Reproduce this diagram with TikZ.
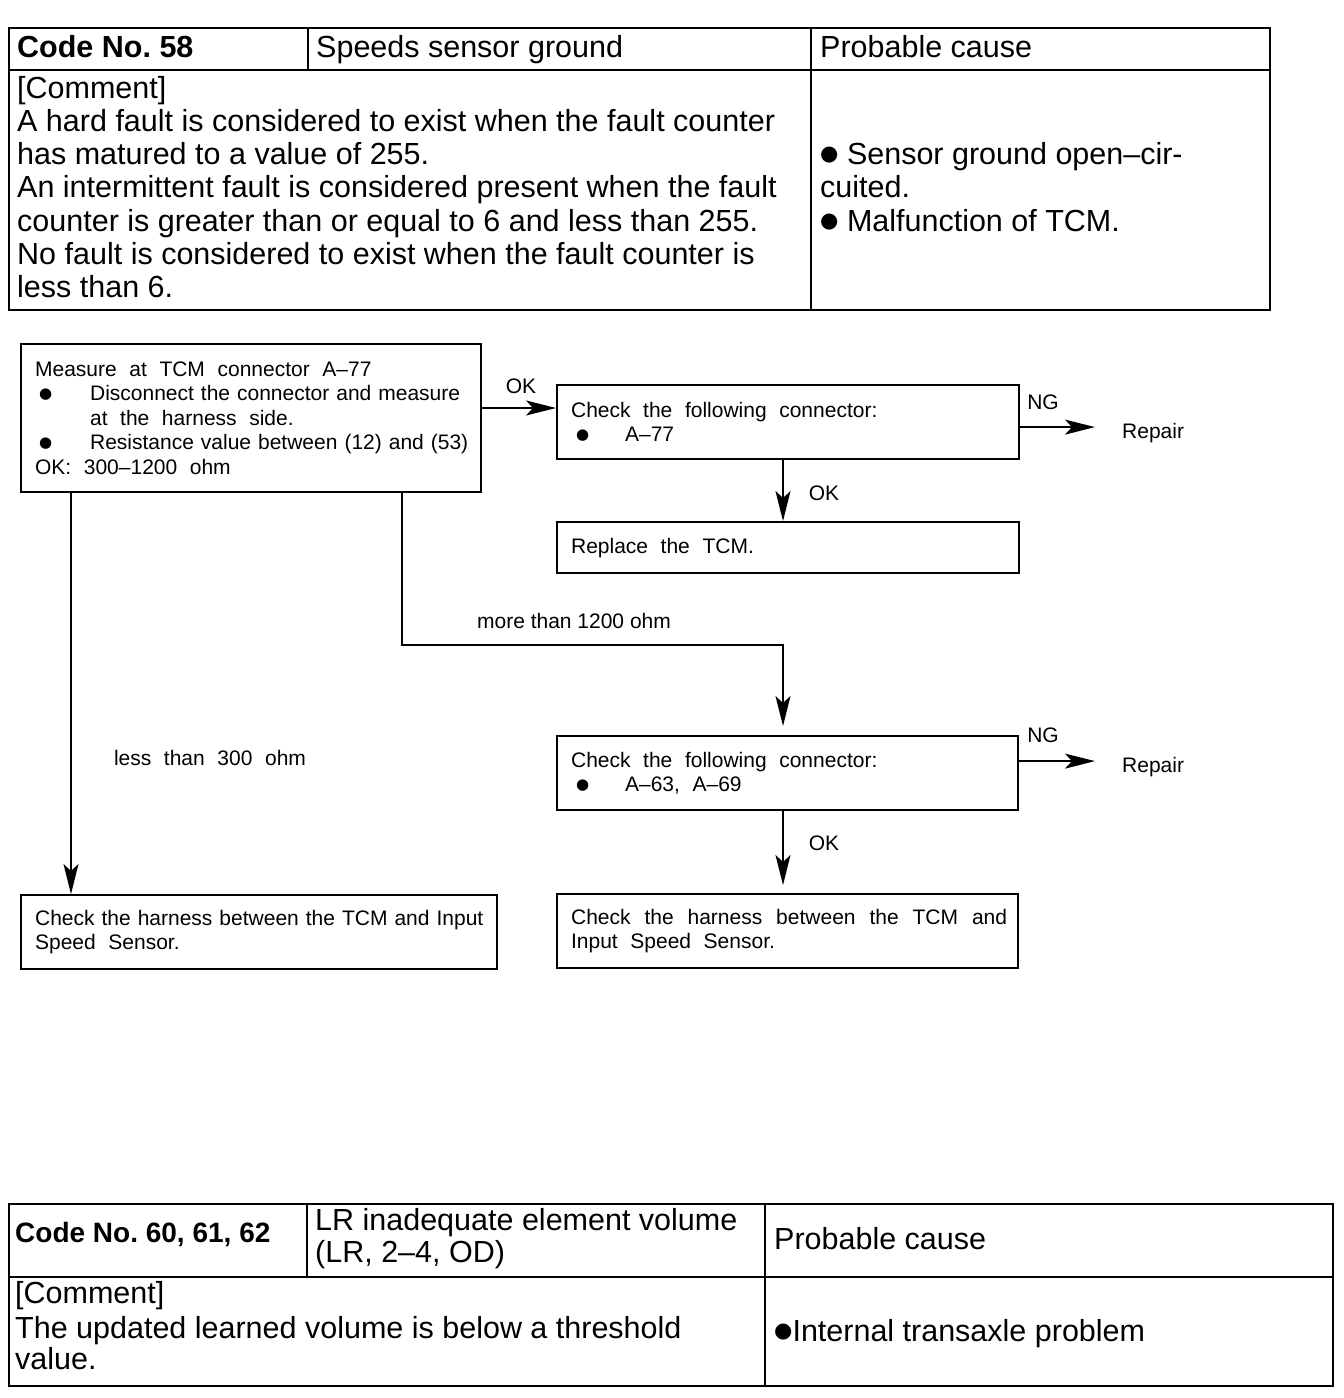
\documentclass[tikz,border=0pt]{standalone}
\usepackage{fontspec}
\setmainfont{Liberation Sans}
\newfontfamily\dejavu{DejaVu Sans}
\usetikzlibrary{arrows.meta}
\newcommand\wsp{\spaceskip=0.6em plus 0.2em\relax}
\newcommand\fbul{\raisebox{2pt}{\dejavu\fontsize{15}{0}\selectfont ●}}
\newcommand\tbul{\raisebox{4pt}{\dejavu\fontsize{21}{0}\selectfont ●}}
\tikzset{
  big/.style={font=\fontsize{30.5}{33.3}\selectfont, inner sep=0pt, anchor=base west},
  mid/.style={font=\fontsize{28}{32}\selectfont, inner sep=0pt, anchor=base west},
  lbl/.style={font=\fontsize{21}{24.5}\selectfont, inner sep=0pt},
  flowbox/.style={draw, line width=2.2pt, font=\fontsize{21}{24.5}\selectfont,
    inner xsep=14pt, inner ysep=0pt, align=left, anchor=north west},
  arr/.style={line width=1.4pt, -{Stealth[length=30pt,width=15pt,inset=7pt]}},
  tbl/.style={line width=2.6pt},
  tblin/.style={line width=2pt},
}
\begin{document}
\begin{tikzpicture}[x=1pt,y=-1pt]
\useasboundingbox (0,0) rectangle (1344,1398);

% ---------- top table ----------
\draw[tbl] (9,28) rectangle (1270,310);
\draw[tbl] (9,70) -- (1270,70);
\draw[tblin] (308,28) -- (308,70);
\draw[tblin] (811,28) -- (811,310);
\node[big] (h1) at (17,57) {\bfseries Code No.\ 58};
\node[big] (h2) at (316,57) {Speeds sensor ground};
\node[big] (h3) at (820,57) {Probable cause};
\node[big] (c1) at (17,98) {[Comment]};
\node[big] (c2) at (17,131.3) {A hard fault is considered to exist when the fault counter};
\node[big] (c3) at (17,164.6) {has matured to a value of 255.};
\node[big] (c4) at (17,197.9) {An intermittent fault is considered present when the fault};
\node[big] (c5) at (17,231.2) {counter is greater than or equal to 6 and less than 255.};
\node[big] (c6) at (17,264.5) {No fault is considered to exist when the fault counter is};
\node[big] (c7) at (17,297.8) {less than 6.};
\node[big] (p1) at (820,164.6) {\tbul\ Sensor ground open–cir-};
\node[big] (p2) at (820,197.9) {cuited.};
\node[big] (p3) at (820,231.2) {\tbul\ Malfunction of TCM.};

% ---------- flowchart ----------
\node[flowbox, text width=432pt, minimum height=148pt] (b1) at (20,343)
  {\mbox{\wsp Measure at TCM connector A–77}\\
   \mbox{\makebox[55pt][l]{\hspace{4pt}\fbul}Disconnect the connector and measure}\\
   \mbox{\hspace*{55pt}{\wsp at the harness side.}}\\
   \mbox{\makebox[55pt][l]{\hspace{4pt}\fbul}Resistance value between (12) and (53)}\\
   \mbox{\wsp OK: 300–1200 ohm}};
\node[flowbox, text width=434pt, minimum height=74pt] (b2) at (556,384)
  {\mbox{\wsp Check the following connector:}\\
   \mbox{\makebox[54pt][l]{\hspace{5pt}\fbul}A–77}};
\node[flowbox, text width=434pt, minimum height=51pt] (b3) at (556,521)
  {\mbox{\wsp Replace the TCM.}};
\node[flowbox, text width=433pt, minimum height=74pt] (b4) at (556,735)
  {\mbox{\wsp Check the following connector:}\\
   \mbox{\makebox[54pt][l]{\hspace{5pt}\fbul}{\wsp A–63, A–69}}};
\node[flowbox, text width=448pt, minimum height=74pt] (b5) at (20,894)
  {\mbox{Check the harness between the TCM and Input}\\
   \mbox{\wsp Speed Sensor.}};
\node[flowbox, text width=433pt, minimum height=74pt] (b6) at (556,893)
  {\makebox[436pt][s]{Check\hfill the\hfill harness\hfill between\hfill the\hfill TCM\hfill and}\\
   \mbox{\wsp Input Speed Sensor.}};

\node[lbl, anchor=west] (rep1) at (1122,433) {Repair};
\node[lbl, anchor=west] (rep2) at (1122,767) {Repair};

\coordinate (j1) at (402,645);
\coordinate (j2) at (783,645);
\coordinate (lx) at (71,700);

% connectors
\draw[arr] ([yshift=-65pt]b1.north east) -- ([yshift=-65pt]b1.north east -| b2.west);
\draw[arr, shorten >=27pt] ([yshift=-5pt]b2.east) -- ([yshift=-5pt]b2.east -| rep1.west);
\draw[arr] (b2.south -| j2) -- (b3.north -| j2);
\draw[arr, shorten >=9pt] (b1.south -| j1) -- (j1) -- (j2) -- (b4.north -| j2);
\draw[arr, shorten >=27pt] ([yshift=12pt]b4.east) -- ([yshift=12pt]b4.east -| rep2.west);
\draw[arr, shorten >=8pt] (b4.south -| j2) -- (b6.north -| j2);
\draw[arr] (b1.south -| lx) -- (b5.north -| lx);

% labels
\node[lbl] (ok1) at (521,386) {OK};
\node[lbl] (ng1) at (1043,402) {NG};
\node[lbl] (ok2) at (824,493) {OK};
\node[lbl] (more) at (574,621) {more than 1200 ohm};
\node[lbl] (ng2) at (1043,735) {NG};
\node[lbl] (ok3) at (824,843) {OK};
\node[lbl] (less) at (210,758) {{\wsp less than 300 ohm}};

% ---------- bottom table ----------
\draw[tbl] (9,1204) rectangle (1333,1386);
\draw[tbl] (9,1277) -- (1333,1277);
\draw[tblin] (307,1204) -- (307,1277);
\draw[tblin] (765,1204) -- (765,1386);
\node[mid] (g1) at (15,1242) {\bfseries Code No.\ 60, 61, 62};
\node[big] (g2) at (315,1230) {LR inadequate element volume};
\node[big] (g3) at (315,1262) {(LR, 2–4, OD)};
\node[big] (g4) at (774,1249) {Probable cause};
\node[big] (d1) at (15,1303) {[Comment]};
\node[big] (d2) at (15,1338) {The updated learned volume is below a threshold};
\node[big] (d3) at (15,1369) {value.};
\node[big] (d4) at (774,1341) {\tbul Internal transaxle problem};
\end{tikzpicture}
\end{document}
